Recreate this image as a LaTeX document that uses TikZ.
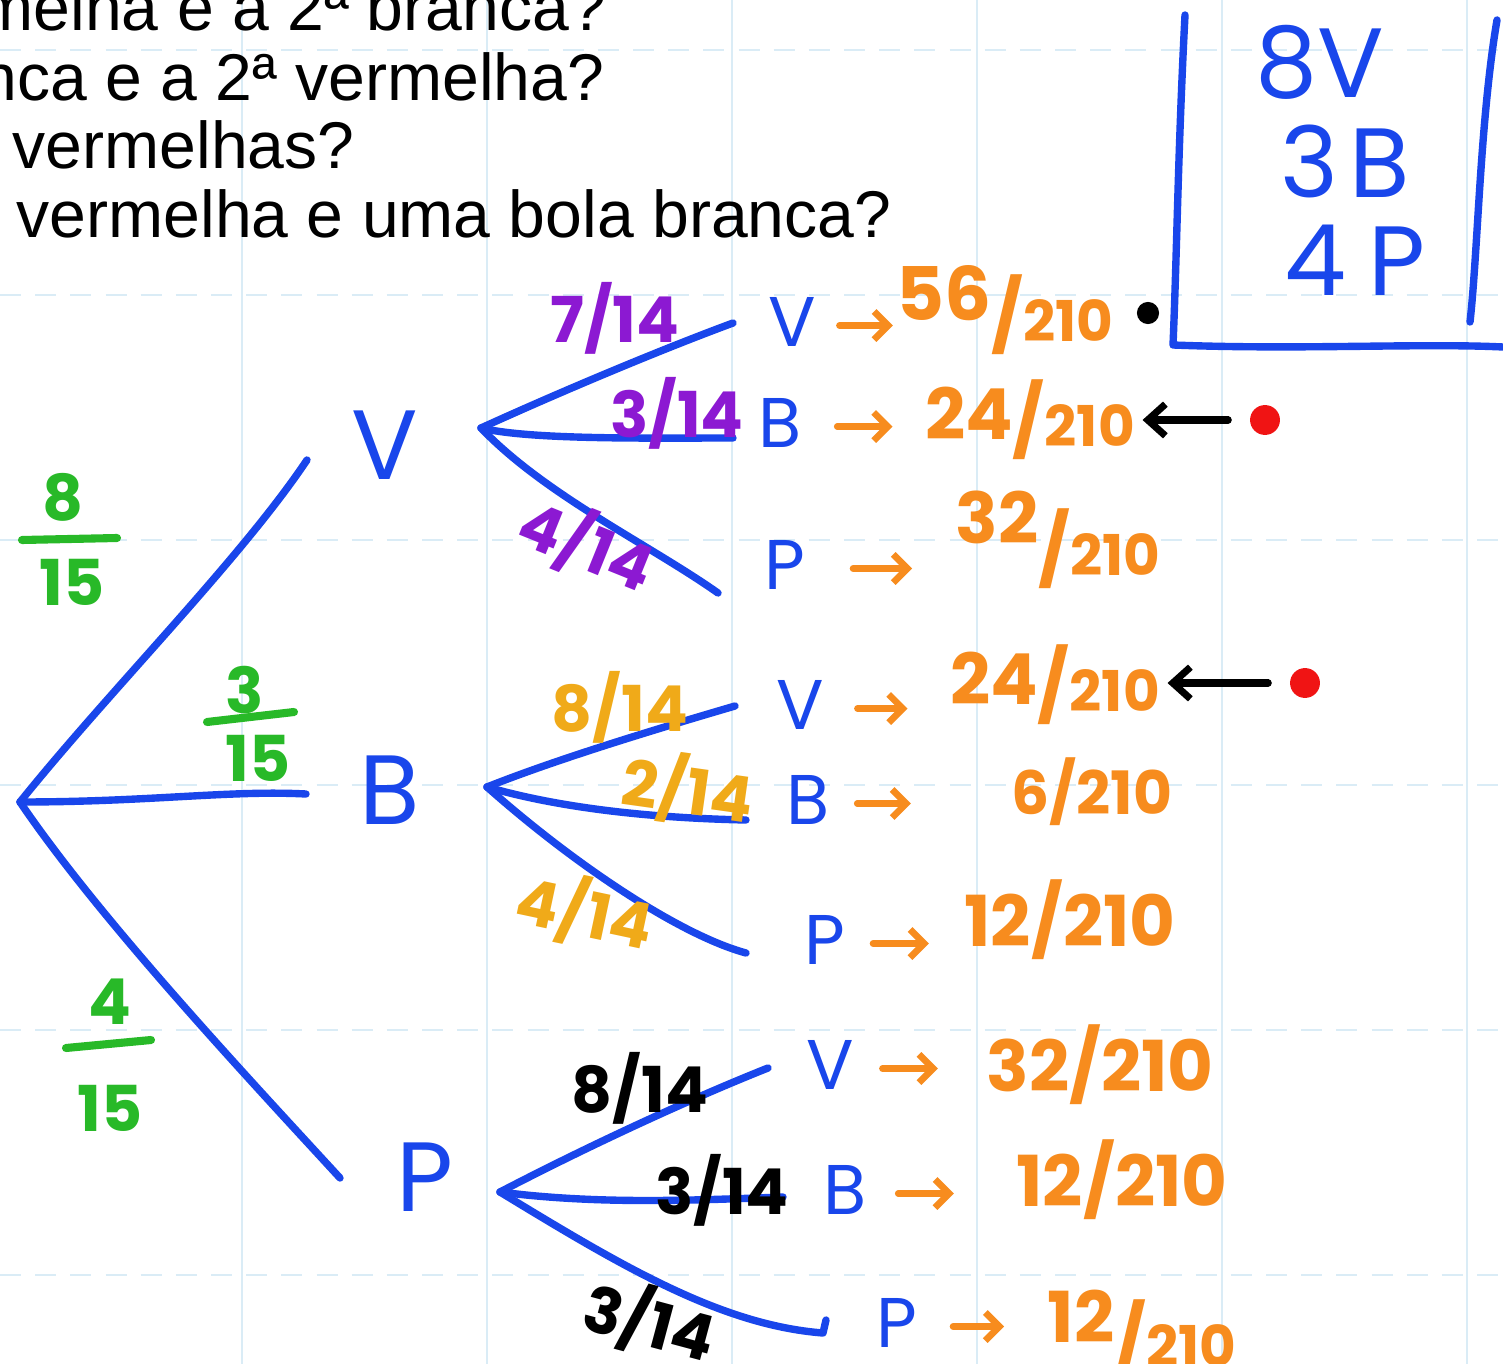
\documentclass[tikz,border=0pt]{standalone}
\usepackage{fontspec}
\setmainfont{Liberation Sans}
\newfontfamily\mao{Poppins}
\usetikzlibrary{arrows.meta}
\definecolor{caneta}{RGB}{25,70,235}
\definecolor{verde}{RGB}{40,185,40}
\definecolor{roxo}{RGB}{140,25,210}
\definecolor{laranja}{RGB}{247,140,30}
\definecolor{ouro}{RGB}{240,170,25}
\definecolor{vermelho}{RGB}{240,20,20}
\definecolor{grade}{RGB}{218,236,246}
\newcommand{\razao}[3][0pt]{\raisebox{#1}{#2}/\scalebox{0.8}{#3}}
\tikzset{
	ramo/.style={caneta,line width=2.1pt,line cap=round,line join=round},
	pergunta/.style={anchor=base west,inner sep=0pt,font=\fontsize{18.8}{22}\selectfont},
	letra/.style={caneta,inner sep=0pt,font=\mao\fontsize{28}{30}\selectfont},
	folha/.style={caneta,inner sep=0pt,font=\mao\fontsize{20}{22}\selectfont},
	rotulo/.style={inner sep=0pt,font=\mao\bfseries\fontsize{18}{20}\selectfont},
	prob/.style={laranja,inner sep=0pt,font=\mao\bfseries\fontsize{20}{22}\selectfont},
	fracao/.style={verde,inner sep=0pt,font=\mao\bfseries\fontsize{18}{20}\selectfont},
	barra/.style={verde,line width=2.3pt,line cap=round},
	seta/.style={laranja,line width=1.9pt,line cap=round,-{Straight Barb[length=4pt,width=8pt]}},
	volta/.style={black,line width=2pt,line cap=round,shorten <=6pt,shorten >=2pt,-{Straight Barb[length=5pt,width=9pt]}},
	ponto/.style={circle,inner sep=0pt,minimum size=6.3pt,fill=black},
	marca/.style={circle,inner sep=0pt,minimum size=8.5pt,fill=vermelho},
}
\begin{document}
\begin{tikzpicture}[x=0.01cm,y=-0.01cm]
	\useasboundingbox (0,0) rectangle (1503,1364);
	\clip (0,0) rectangle (1503,1364);
	\fill[white] (0,0) rectangle (1503,1364);
	\foreach \y in {50,295,...,1300} \draw[grade,line width=0.8pt,dash pattern=on 6pt off 4pt] (0,\y) -- (1503,\y);
	\foreach \x in {242,487,...,1500} \draw[grade,line width=0.6pt] (\x,0) -- (\x,1364);
	\node[pergunta] (q1) at (-22,31) {melha e a 2ª branca?};
	\node[pergunta] (q2) at (-20,101) {nca e a 2ª vermelha?};
	\node[pergunta] (q3) at (12,169) {vermelhas?};
	\node[pergunta] (q4) at (16,238) {vermelha e uma bola branca?};
	\draw[ramo] (1185,15) .. controls (1178,150) and (1177,250) .. (1173,345) .. controls (1300,350) and (1420,343) .. (1503,347);
	\draw[ramo] (1497,20) .. controls (1480,120) and (1478,250) .. (1470,322);
	\node[letra] (caixa1) at (1320,62) {8V};
	\node[letra] (caixa2) at (1345,161) {3\kern3pt B};
	\node[letra] (caixa3) at (1355,260) {4\kern6pt P};
	\coordinate (raiz) at (20,802);
	\coordinate (fimV) at (307,460);
	\coordinate (fimB) at (306,794);
	\coordinate (fimP) at (340,1178);
	\draw[ramo] (raiz) .. controls (110,690) and (240,560) .. (fimV);
	\draw[ramo] (raiz) .. controls (150,802) and (230,790) .. (fimB);
	\draw[ramo] (raiz) .. controls (100,920) and (250,1080) .. (fimP);
	\node[fracao] (n1) at (63,497) {8};
	\node[fracao] (d1) at (72,582) {15};
	\draw[barra] (22,540) -- (117,538);
	\node[fracao] (n2) at (245,690) {3};
	\node[fracao] (d2) at (258,758) {15};
	\draw[barra] (207,722) -- (294,712);
	\node[fracao] (n3) at (110,1002) {4};
	\node[fracao] (d3) at (110,1108) {15};
	\draw[barra] (66,1048) -- (151,1040);
	\node[letra] (V) at (385,445) {V};
	\node[letra] (B) at (390,790) {B};
	\node[letra] (P) at (425,1177) {P};
	\coordinate (oV) at (481,428);
	\coordinate (oB) at (487,787);
	\coordinate (oP) at (500,1192);
	\coordinate (eVV) at (733,323);
	\coordinate (eVB) at (733,438);
	\coordinate (eVP) at (718,593);
	\coordinate (eBV) at (735,706);
	\coordinate (eBB) at (746,820);
	\coordinate (eBP) at (746,953);
	\coordinate (ePV) at (768,1068);
	\coordinate (ePB) at (783,1197);
	\coordinate (ePP) at (823,1333);
	\draw[ramo] (oV) .. controls (560,392) and (660,350) .. (eVV);
	\draw[ramo] (oV) .. controls (530,440) and (650,438) .. (eVB);
	\draw[ramo] (oV) .. controls (545,495) and (650,545) .. (eVP);
	\draw[ramo] (oB) .. controls (560,758) and (660,728) .. (eBV);
	\draw[ramo] (oB) .. controls (560,808) and (650,818) .. (eBB);
	\draw[ramo] (oB) .. controls (575,865) and (680,935) .. (eBP);
	\draw[ramo] (oP) .. controls (600,1140) and (700,1095) .. (ePV);
	\draw[ramo] (oP) .. controls (600,1205) and (700,1200) .. (ePB);
	\draw[ramo] (oP) .. controls (620,1265) and (720,1325) .. (ePP) -- (826,1320);
	\node[rotulo,roxo] (tVV) at (615,318) {7/14};
	\node[rotulo,roxo] (tVB) at (677,413) {3/14};
	\node[rotulo,roxo,rotate=-22] (tVP) at (587,545) {4/14};
	\node[rotulo,ouro] (tBV) at (620,707) {8/14};
	\node[rotulo,ouro,rotate=-8] (tBB) at (688,790) {2/14};
	\node[rotulo,ouro,rotate=-12] (tBP) at (585,912) {4/14};
	\node[rotulo] (tPV) at (640,1088) {8/14};
	\node[rotulo] (tPB) at (722,1190) {3/14};
	\node[rotulo,rotate=-15] (tPP) at (650,1322) {3/14};
	\node[folha] (VV) at (792,322) {V};
	\node[folha] (VB) at (780,423) {B};
	\node[folha] (VP) at (785,565) {P};
	\node[folha] (BV) at (800,705) {V};
	\node[folha] (BB) at (808,800) {B};
	\node[folha] (BP) at (825,940) {P};
	\node[folha] (PV) at (830,1065) {V};
	\node[folha] (PB) at (845,1190) {B};
	\node[folha] (PP) at (897,1323) {P};
	\node[prob] (pVV) at (1005,310) {\razao[6pt]{\scalebox{1.05}{56}}{210}};
	\node[prob] (pVB) at (1030,420) {\razao[2pt]{24}{210}};
	\node[prob] (pVP) at (1058,540) {\razao[9pt]{32}{210}};
	\node[prob] (pBV) at (1055,685) {\razao[2pt]{24}{210}};
	\node[prob,font=\mao\bfseries\fontsize{17}{19}\selectfont] (pBB) at (1092,792) {6/210};
	\node[prob] (pBP) at (1070,920) {12/210};
	\node[prob] (pPV) at (1100,1065) {32/210};
	\node[prob] (pPB) at (1122,1180) {12/210};
	\node[prob] (pPP) at (1142,1335) {\razao[7pt]{12}{210}};
	\foreach \f/\a/\b in {VV/23/3,VB/35/32,VP/47/43,BV/33/42,BB/27/100,BP/27/35,PV/28/48,PB/31/62,PP/35/43}
		\draw[seta,shorten <=\a*0.01cm,shorten >=\b*0.01cm] ([yshift=-1pt]\f.east) -- ([yshift=-1pt]\f.east -| p\f.west);
	\node[ponto] (preto) at (1148,313) {};
	\node[marca] (m1) at (1265,420) {};
	\node[marca] (m2) at (1305,683) {};
	\draw[volta] (m1.west) -- (m1.west -| pVB.east);
	\draw[volta] (m2.west) -- (m2.west -| pBV.east);
\end{tikzpicture}
\end{document}
